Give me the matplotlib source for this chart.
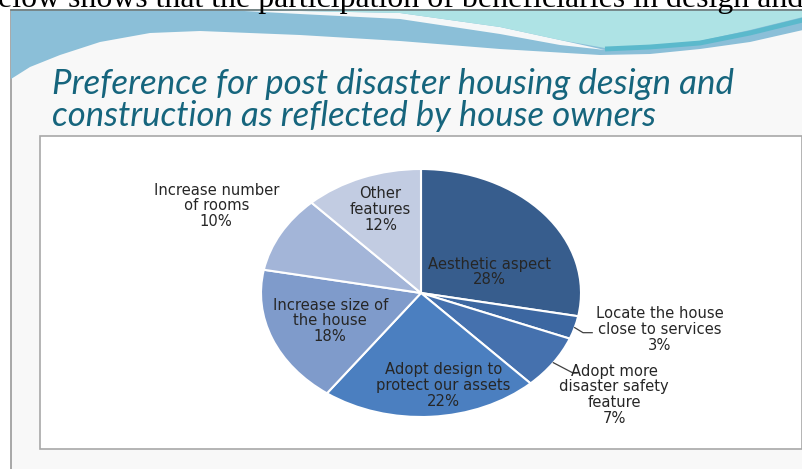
import matplotlib
matplotlib.use("Agg")
import matplotlib.pyplot as plt
import numpy as np
from matplotlib.patches import Polygon, Rectangle

# ---------------- data ----------------
categories = ["Aesthetic aspect", "Locate the house\nclose to services",
              "Adopt more\ndisaster safety\nfeature", "Adopt design to\nprotect our assets",
              "Increase size of\nthe house", "Increase number\nof rooms", "Other\nfeatures"]
values = [28, 3, 7, 22, 18, 10, 12]
slice_colors = ["#375d8d", "#3c67a1", "#4571ae", "#4b7fc0", "#7f9bcb", "#a3b5d8", "#c2cce2"]
title_lines = ["Preference for post disaster housing design and",
               "construction as reflected by house owners"]
header_text = "elow shows that the participation of beneficiaries in design and"

# ---------------- styling / layout ----------------
W, H = 803, 469
label_dist = [0.46, 1.52, 1.46, 0.76, 0.61, 1.46, 0.72]
angle_shift = [-18, 5, 0, 7, 0, 0, -1]
text_color = "#262626"
label_font = "DejaVu Sans"
title_font = "Lato"

fig = plt.figure(figsize=(W / 100, H / 100), dpi=100)
fig.patch.set_facecolor("white")
bg = fig.add_axes([0, 0, 1, 1])
bg.set_xlim(0, W)
bg.set_ylim(H, 0)
bg.axis("off")

renderer = fig.canvas.get_renderer()


def fit_text(ax, x, y, s, target_w, size0, **kw):
    t = ax.text(x, y, s, fontsize=size0, **kw)
    w = t.get_window_extent(renderer).width
    t.set_fontsize(size0 * target_w / w)
    return t


# slide background
bg.add_patch(Rectangle((11, 10), W, H, facecolor="#f8f8f8", edgecolor="#9a9a9a", lw=1.2, zorder=0))

# blue wave
blue_bottom = [(803, 30), (750, 42), (700, 49), (650, 54), (600, 55), (500, 49), (400, 41),
               (300, 35), (200, 31), (150, 33), (100, 42), (60, 55), (30, 67), (11, 79)]
bg.add_patch(Polygon([(11, 10.5), (803, 10.5)] + blue_bottom, closed=True,
                     facecolor="#8bbfd8", edgecolor="none", zorder=1))
# white stripe
stripe = [(235, 10.5), (300, 11), (400, 13), (500, 27), (560, 40), (605, 50),
          (560, 45), (500, 34), (400, 19), (300, 14)]
bg.add_patch(Polygon(stripe, closed=True, facecolor="#f4f7f8", edgecolor="none", zorder=2))
# cyan area
cyan = [(255, 10.5), (803, 10.5), (803, 17), (750, 30), (700, 41), (650, 46), (605, 48),
        (560, 40), (500, 27), (400, 13), (300, 11)]
bg.add_patch(Polygon(cyan, closed=True, facecolor="#aee3e5", edgecolor="none", zorder=3))
tx = [605, 650, 700, 750, 803]
ty = [49, 47, 43, 33, 20]
bg.plot(tx, ty, color="#5bb9cc", lw=3.5, zorder=3.5, solid_capstyle="butt")

# top line of slide
bg.plot([11, W], [10, 10], color="#6f7f80", lw=1.2, zorder=4)

# header serif text (cut at top)
fit_text(bg, -2, 7.5, header_text, 806, 20, family="Liberation Serif", color="black",
         va="baseline", ha="left", zorder=5)

# title
fit_text(bg, 52, 94, title_lines[0], 683, 18, family=title_font, style="italic", color="#16657d",
         va="baseline", ha="left", zorder=5)
fit_text(bg, 52, 126, title_lines[1], 604, 18, family=title_font, style="italic", color="#16657d",
         va="baseline", ha="left", zorder=5)

# chart box
bg.add_patch(Rectangle((40.5, 136.5), 762, 312.5, facecolor="white", edgecolor="#a8a8a8",
                       lw=1.2, zorder=5))

# ---------------- pie ----------------
cx0, cx1, cy0, cy1 = 261, 581, 169, 417
ax = fig.add_axes([cx0 / W, (H - cy1) / H, (cx1 - cx0) / W, (cy1 - cy0) / H])
wedges, _ = ax.pie(values, colors=slice_colors, startangle=90, counterclock=False,
                   wedgeprops=dict(edgecolor="white", linewidth=1.5))
ax.set_aspect("auto")
ax.set_xlim(-1, 1)
ax.set_ylim(-1, 1)
ax.axis("off")
ax.set_zorder(6)

for i, (w, lab, v) in enumerate(zip(wedges, categories, values)):
    mid = np.deg2rad((w.theta1 + w.theta2) / 2 + angle_shift[i])
    r = label_dist[i]
    ax.text(r * np.cos(mid), r * np.sin(mid), f"{lab}\n{v}%", ha="center", va="center",
            fontsize=10.6, family=label_font, color=text_color, linespacing=1.06)

# leader lines for the two small outside slices
leaders = {1: [(1.0125, -0.32), (1.07, -0.32)], 2: [(0.95, -0.645), (0.975, -0.645)]}
for i, pts in leaders.items():
    w = wedges[i]
    mid = np.deg2rad((w.theta1 + w.theta2) / 2)
    xs = [np.cos(mid)] + [p[0] for p in pts]
    ys = [np.sin(mid)] + [p[1] for p in pts]
    ax.plot(xs, ys, color="#404040", lw=0.9, clip_on=False)

fig.savefig("out.png", dpi=100, facecolor="white")
